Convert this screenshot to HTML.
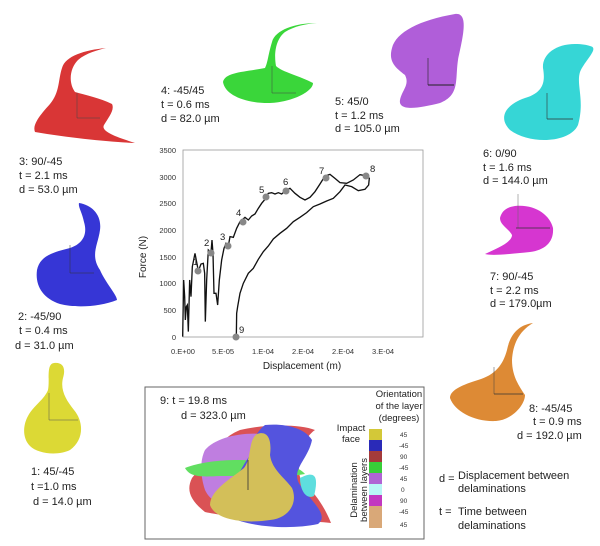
<!DOCTYPE html>
<html><head><meta charset="utf-8"><style>
html,body{margin:0;padding:0;background:#fff;}
svg{display:block;font-family:"Liberation Sans",sans-serif;}
</style></head><body>
<svg width="600" height="546" viewBox="0 0 600 546" xmlns="http://www.w3.org/2000/svg">
<!-- Red 3 -->
<path d="M106,48 C85,50 65,56 62,68 C58,80 60,92 50,104 C40,115 32,125 35,132 C70,138 110,142 135,143 C120,138 100,132 104,125 C108,118 115,110 112,104 C100,98 85,95 75,92 C68,82 70,68 78,60 C86,53 98,50 106,48 Z" fill="#d93636"/>
<line x1="77" y1="93" x2="77" y2="118" stroke="#444" stroke-width="0.5"/><line x1="77" y1="118" x2="100" y2="118" stroke="#444" stroke-width="0.5"/>
<!-- Green 4 -->
<path d="M317,23 C295,23 275,30 272,42 C268,55 268,62 265,68 C245,72 225,72 223,82 C225,95 245,103 268,103 C290,103 313,92 313,83 C300,76 282,72 276,66 C274,55 275,40 285,32 C295,26 305,24 317,23 Z" fill="#3ad63a"/>
<line x1="272" y1="66" x2="272" y2="93" stroke="#444" stroke-width="0.5"/><line x1="272" y1="93" x2="296" y2="93" stroke="#444" stroke-width="0.5"/>
<!-- Purple 5 -->
<path d="M455,14 C470,12 462,40 458,60 C455,80 460,95 440,103 C420,108 398,112 400,100 C402,90 410,85 405,75 C396,68 388,62 392,48 C396,32 420,20 455,14 Z" fill="#b05ed9"/>
<line x1="428" y1="58" x2="428" y2="85" stroke="#222" stroke-width="0.6"/><line x1="428" y1="85" x2="454" y2="85" stroke="#222" stroke-width="1"/>
<!-- Cyan 6 -->
<path d="M590,46 C600,48 585,60 580,72 C576,85 585,100 578,125 C570,143 530,145 510,130 C498,118 505,105 525,98 C545,92 545,80 543,68 C542,55 555,44 575,44 C582,44 587,45 590,46 Z" fill="#36d6d6"/>
<line x1="547" y1="93" x2="547" y2="119" stroke="#333" stroke-width="0.6"/><line x1="547" y1="119" x2="573" y2="119" stroke="#333" stroke-width="0.8"/>
<!-- Blue 2 -->
<path d="M79,203 C92,205 102,215 100,230 C98,245 90,255 100,270 C105,282 117,295 117,300 C100,307 75,308 60,304 C42,298 35,285 37,270 C40,255 55,252 70,248 C82,244 88,235 84,222 C82,212 78,207 79,203 Z" fill="#3636d6"/>
<line x1="70" y1="245" x2="70" y2="273" stroke="#333" stroke-width="0.5"/><line x1="70" y1="273" x2="94" y2="273" stroke="#333" stroke-width="0.5"/>
<!-- Magenta 7 -->
<path d="M515,206 C535,204 550,215 553,228 C554,242 545,250 530,252 C510,254 492,256 485,254 C498,248 512,242 512,235 C508,228 500,225 500,218 C502,210 508,207 515,206 Z" fill="#d636d0"/>
<line x1="518" y1="194" x2="518" y2="228" stroke="#666" stroke-width="0.5"/><line x1="516" y1="228" x2="550" y2="228" stroke="#333" stroke-width="0.8"/>
<!-- Orange 8 -->
<path d="M533,323 C518,325 510,335 507,350 C503,365 495,375 478,380 C462,385 450,390 450,398 C455,412 475,422 496,421 C512,420 525,405 525,395 C518,385 512,375 512,360 C513,345 518,332 533,323 Z" fill="#dd8a35"/>
<line x1="494" y1="367" x2="494" y2="394" stroke="#444" stroke-width="0.5"/><line x1="494" y1="394" x2="523" y2="394" stroke="#333" stroke-width="0.8"/>
<!-- Yellow 1 -->
<path d="M54,363 C63,362 66,368 63,378 C60,390 66,400 74,410 C84,422 84,440 70,450 C58,456 38,454 30,446 C22,438 23,425 28,416 C34,405 44,400 48,390 C50,380 46,364 54,363 Z" fill="#dcd935"/>
<line x1="49" y1="393" x2="49" y2="420" stroke="#555" stroke-width="0.5"/><line x1="49" y1="420" x2="78" y2="420" stroke="#555" stroke-width="0.5"/>

<!-- Labels -->
<g font-size="11" fill="#222">
<text x="19" y="165">3:  90/-45</text><text x="19" y="179">t = 2.1 ms</text><text x="19" y="193">d =  53.0  µm</text>
<text x="161" y="94">4:  -45/45</text><text x="161" y="108">t = 0.6 ms</text><text x="161" y="122">d =  82.0  µm</text>
<text x="335" y="105">5:   45/0</text><text x="335" y="119">t = 1.2 ms</text><text x="335" y="132">d =  105.0  µm</text>
<text x="483" y="157">6:     0/90</text><text x="483" y="171">t = 1.6 ms</text><text x="483" y="184">d = 144.0 µm</text>
<text x="490" y="280">7:   90/-45</text><text x="490" y="294">t = 2.2 ms</text><text x="490" y="307">d = 179.0µm</text>
<text x="18" y="320">2:  -45/90</text><text x="19" y="334">t = 0.4 ms</text><text x="15" y="349">d =  31.0  µm</text>
<text x="529" y="412">8:  -45/45</text><text x="533" y="425">t = 0.9 ms</text><text x="517" y="439">d = 192.0 µm</text>
<text x="31" y="475">1:   45/-45</text><text x="31" y="490">t =1.0  ms</text><text x="33" y="505">d = 14.0 µm</text>
<text x="439" y="482">d =</text><text x="458" y="479">Displacement between</text><text x="458" y="492">delaminations</text>
<text x="439" y="515">t =</text><text x="458" y="515">Time between</text><text x="458" y="529">delaminations</text>
</g>

<!-- Chart -->
<rect x="183" y="150" width="240" height="187" fill="none" stroke="#999" stroke-width="0.8"/>
<g font-size="7.5" fill="#333" text-anchor="end">
<text x="176" y="153">3500</text><text x="176" y="180">3000</text><text x="176" y="206">2500</text><text x="176" y="233">2000</text><text x="176" y="260">1500</text><text x="176" y="286">1000</text><text x="176" y="313">500</text><text x="176" y="340">0</text>
</g>
<g font-size="7.5" fill="#333" text-anchor="middle">
<text x="183" y="354">0.E+00</text><text x="223" y="354">5.E-05</text><text x="263" y="354">1.E-04</text><text x="303" y="354">2.E-04</text><text x="343" y="354">2.E-04</text><text x="383" y="354">3.E-04</text>
</g>
<text x="302" y="369" font-size="10" text-anchor="middle" fill="#222">Displacement (m)</text>
<text transform="translate(146,257) rotate(-90)" font-size="10" text-anchor="middle" fill="#222">Force (N)</text>
<g transform="translate(140,140) scale(0.3333)" fill="none" stroke="#111" stroke-width="4">
<path d="M128,590 L131,420 L134,470 L136,540 L139,500 L142,495 L145,575 L149,420 L153,470 L157,380 L165,340 L175,393 L183,372 L190,370 L194,400 L196,545 L200,420 L205,330 L213,338 L216,300 L219,340 L222,460 L228,460 L233,495 L238,420 L245,360 L252,325 L258,310 L265,318 L270,290 L280,292 L290,265 L300,245 L315,232 L325,240 L335,228 L345,222 L355,205 L365,190 L375,178 L385,160 L395,158 L405,162 L415,158 L425,162 L437,152 L450,145 L465,160 L480,172 L495,180 L510,172 L525,155 L540,132 L555,108 L570,103 L585,115 L600,128 L620,130 L640,120 L660,104 L678,107 L688,115 L686,135 L675,148 L655,152 L635,140 L615,135 L600,155 L580,175 L560,183 L540,192 L520,200 L500,218 L480,232 L460,245 L440,265 L420,280 L400,297 L385,318 L370,335 L355,358 L340,385 L325,400 L310,430 L300,460 L293,500 L290,520 L289,590"/>
</g>
<g fill="#888">
<circle cx="198" cy="271" r="3.5"/><circle cx="211" cy="253" r="3.5"/><circle cx="228" cy="246" r="3.5"/><circle cx="243" cy="222" r="3.5"/><circle cx="266" cy="197" r="3.5"/><circle cx="286" cy="191" r="3.5"/><circle cx="326" cy="178" r="3.5"/><circle cx="366" cy="176" r="3.5"/><circle cx="236" cy="337" r="3.5"/>
</g>
<g font-size="9.5" fill="#222">
<text x="193" y="265">1</text><text x="204" y="246">2</text><text x="220" y="240">3</text><text x="236" y="216">4</text><text x="259" y="193">5</text><text x="283" y="185">6</text><text x="319" y="174">7</text><text x="370" y="172">8</text><text x="239" y="333">9</text>
</g>

<!-- Box 9 -->
<rect x="145" y="387" width="279" height="152" fill="#fff" stroke="#666" stroke-width="1"/>
<text x="160" y="404" font-size="11" fill="#222">9:   t = 19.8 ms</text>
<text x="181" y="419" font-size="11" fill="#222">d = 323.0   µm</text>
<g opacity="0.8">
<path d="M240,430 C265,424 300,424 315,430 C300,440 295,470 302,482 C318,494 328,515 331,523 C300,520 230,518 205,512 C190,500 186,490 192,478 C198,470 205,465 212,460 C215,448 225,436 240,430 Z" fill="#d2272b"/>
<path d="M205,450 C215,438 240,432 262,434 C270,455 262,485 250,505 C230,510 212,505 205,490 C200,475 200,460 205,450 Z" fill="#b05ed9"/>
<path d="M185,468 C205,460 240,458 265,462 C290,464 300,468 305,474 C285,478 250,476 220,476 C200,477 190,477 185,468 Z" fill="#3ad63a"/>
<path d="M265,425 C285,423 305,428 312,440 C308,460 290,470 300,485 C310,500 330,515 318,524 C290,530 250,527 230,517 C225,495 240,470 250,455 C252,440 258,430 265,425 Z" fill="#2a2ad6"/>
<path d="M300,478 C312,472 320,472 314,496 C306,500 300,490 300,478 Z" fill="#36d6d6"/>
<path d="M257,434 C268,430 272,440 270,455 C272,470 285,478 292,488 C298,502 290,518 270,520 C245,524 215,520 210,505 C210,490 232,478 244,468 C252,458 248,440 257,434 Z" fill="#c9b030"/>
</g>
<line x1="248" y1="460" x2="248" y2="490" stroke="#333" stroke-width="0.8"/>
<g font-size="9.5" fill="#222" text-anchor="middle">
<text x="399" y="397">Orientation</text><text x="399" y="409">of the layer</text><text x="399" y="421">(degrees)</text>
<text x="351" y="431">Impact</text><text x="351" y="442">face</text>
</g>
<text transform="translate(357,490) rotate(-90)" font-size="9.5" fill="#222" text-anchor="middle">Delamination</text>
<text transform="translate(367,490) rotate(-90)" font-size="9.5" fill="#222" text-anchor="middle">between layers</text>
<g>
<rect x="369" y="429" width="13" height="11" fill="#d3c838"/>
<rect x="369" y="440" width="13" height="11" fill="#2a2ab8"/>
<rect x="369" y="451" width="13" height="11" fill="#a43b3b"/>
<rect x="369" y="462" width="13" height="11" fill="#38cf38"/>
<rect x="369" y="473" width="13" height="11" fill="#b064d4"/>
<rect x="369" y="484" width="13" height="11" fill="#b8f6f6"/>
<rect x="369" y="495" width="13" height="11" fill="#c238c0"/>
<rect x="369" y="506" width="13" height="11" fill="#d9a878"/>
<rect x="369" y="517" width="13" height="11" fill="#d9a878"/>
</g>
<g font-size="6.5" fill="#333">
<text x="400" y="437">45</text><text x="399" y="448">-45</text><text x="400" y="459">90</text><text x="399" y="470">-45</text><text x="400" y="481">45</text><text x="401" y="492">0</text><text x="400" y="503">90</text><text x="399" y="514">-45</text><text x="400" y="527">45</text>
</g>
</svg>
</body></html>
